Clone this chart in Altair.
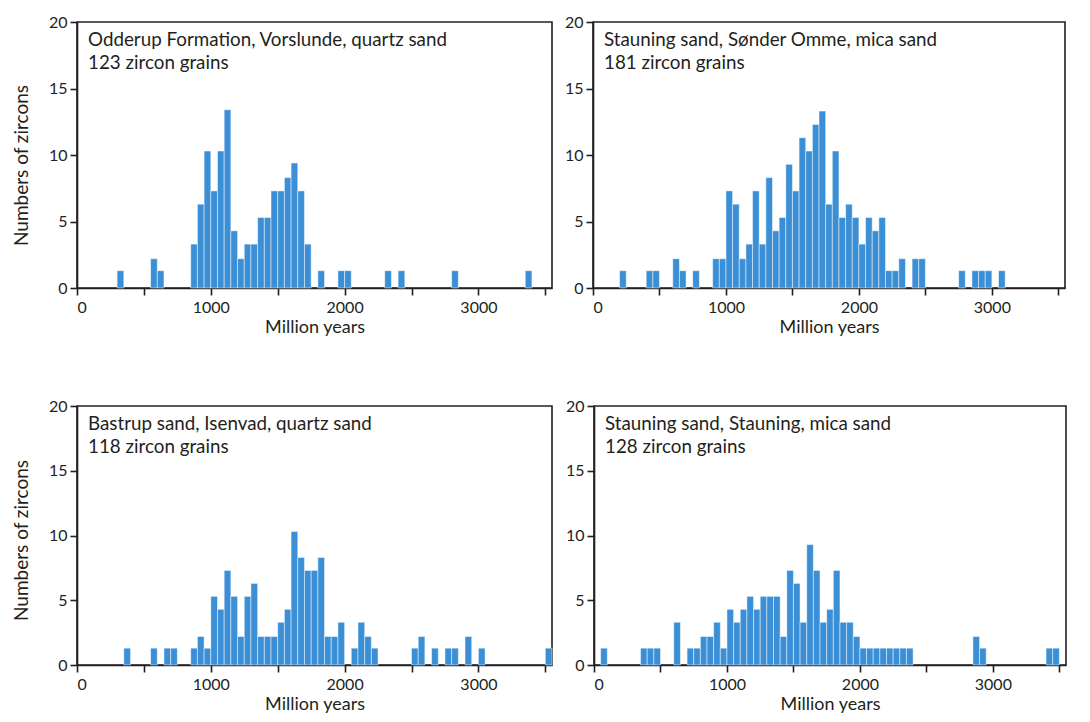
import altair as alt
import pandas as pd

FONT = "Lato"
BLUE = "#3a8fd6"
INK = "#231f20"
BIN = 50

line1 = ["Odderup Formation, Vorslunde, quartz sand",
         "Stauning sand, Sønder Omme, mica sand",
         "Bastrup sand, Isenvad, quartz sand",
         "Stauning sand, Stauning, mica sand"]
line2 = ["123 zircon grains", "181 zircon grains", "118 zircon  grains", "128 zircon grains"]

# bin starts (Ma) and bar heights
starts1 = [300, 550, 600, 850, 900, 950, 1000, 1050, 1100, 1150, 1200, 1250, 1300, 1350,
           1400, 1450, 1500, 1550, 1600, 1650, 1700, 1800, 1950, 2000, 2300, 2400, 2800, 3350]
heights1 = [1.3, 2.2, 1.3, 3.3, 6.3, 10.3, 7.3, 10.3, 13.4, 4.3, 2.2, 3.3, 3.3, 5.3,
            5.3, 7.3, 7.3, 8.3, 9.4, 7.3, 3.3, 1.3, 1.3, 1.3, 1.3, 1.3, 1.3, 1.3]

starts2 = [200, 400, 450, 600, 650, 750,
           900, 950, 1000, 1050, 1100, 1150, 1200, 1250, 1300, 1350, 1400, 1450, 1500, 1550,
           1600, 1650, 1700, 1750, 1800, 1850, 1900, 1950, 2000, 2050, 2100, 2150, 2200, 2250, 2300,
           2400, 2450, 2750, 2850, 2900, 2950, 3050]
heights2 = [1.3, 1.3, 1.3, 2.2, 1.3, 1.3,
            2.2, 2.2, 7.3, 6.3, 2.2, 3.3, 7.3, 3.3, 8.3, 4.3, 5.3, 9.3, 7.3, 11.3,
            10.3, 12.3, 13.3, 6.3, 10.3, 5.3, 6.3, 5.3, 3.3, 5.3, 4.3, 5.3, 1.3, 1.3, 2.2,
            2.2, 2.2, 1.3, 1.3, 1.3, 1.3, 1.3]

starts3 = [350, 550, 650, 700, 850, 900, 950, 1000, 1050, 1100, 1150, 1200, 1250, 1300,
           1350, 1400, 1450, 1500, 1550, 1600, 1650, 1700, 1750, 1800, 1850, 1900, 1950,
           2050, 2100, 2150, 2200, 2500, 2550, 2650, 2750, 2800, 2900, 3000, 3500]
heights3 = [1.3, 1.3, 1.3, 1.3, 1.3, 2.2, 1.3, 5.3, 4.3, 7.3, 5.3, 2.2, 5.3, 6.3,
            2.2, 2.2, 2.2, 3.3, 4.3, 10.3, 8.3, 7.3, 7.3, 8.3, 2.2, 2.2, 3.3,
            1.3, 3.3, 2.2, 1.3, 1.3, 2.2, 1.3, 1.3, 1.3, 2.2, 1.3, 1.3]

starts4 = [50, 350, 400, 450, 600,
           700, 750, 800, 850, 900, 950, 1000, 1050, 1100, 1150, 1200, 1250, 1300, 1350,
           1400, 1450, 1500, 1550, 1600, 1650, 1700, 1750, 1800, 1850, 1900, 1950,
           2000, 2050, 2100, 2150, 2200, 2250, 2300, 2350, 2850, 2900, 3400, 3450]
heights4 = [1.3, 1.3, 1.3, 1.3, 3.3,
            1.3, 1.3, 2.2, 2.2, 3.3, 1.3, 4.3, 3.3, 4.3, 5.3, 4.3, 5.3, 5.3, 5.3,
            2.2, 7.3, 6.3, 3.3, 9.3, 7.3, 3.3, 4.3, 7.3, 3.3, 3.3, 2.2,
            1.3, 1.3, 1.3, 1.3, 1.3, 1.3, 1.3, 1.3, 2.2, 1.3, 1.3, 1.3]

x_ticks = [0, 500, 1000, 1500, 2000, 2500, 3000, 3500]
y_ticks = [0, 5, 10, 15, 20]


def panel(starts, heights, t1, t2, ytitle, width, height, title_y):
    df = pd.DataFrame({"start": starts, "count": heights})
    df["end"] = df["start"] + BIN
    if ytitle:
        yaxis = alt.Axis(values=y_ticks, grid=False, titlePadding=17, titleFontSize=19,
                         titleY=title_y, title=ytitle)
    else:
        yaxis = alt.Axis(values=y_ticks, grid=False, title=None)
    bars = alt.Chart(df).mark_bar(color=BLUE, stroke="white", strokeWidth=0.6,
                                  strokeOpacity=0.8).encode(
        x=alt.X("start:Q", scale=alt.Scale(domain=[0, 3550], nice=False, zero=False),
                axis=alt.Axis(values=x_ticks, format="d", grid=False, title="Million years",
                              labelExpr="datum.value % 1000 === 0 ? datum.label : ''",
                              labelPadding=4, titlePadding=3)),
        x2="end:Q",
        y=alt.Y("count:Q", scale=alt.Scale(domain=[0, 20], nice=False), axis=yaxis),
        y2=alt.datum(0),
    )
    t_a = alt.Chart(pd.DataFrame({"t": [t1]})).mark_text(
        align="left", baseline="middle", fontSize=18.8, font=FONT, color=INK).encode(
        text="t:N", x=alt.value(11), y=alt.value(18))
    t_b = alt.Chart(pd.DataFrame({"t": [t2]})).mark_text(
        align="left", baseline="middle", fontSize=18.8, font=FONT, color=INK).encode(
        text="t:N", x=alt.value(11), y=alt.value(41))
    return alt.layer(bars, t_a, t_b).properties(width=width, height=height)


p1 = panel(starts1, heights1, line1[0], line2[0], "Numbers of zircons", 475, 266, 143)
p2 = panel(starts2, heights2, line1[1], line2[1], "", 472, 266, 0)
p3 = panel(starts3, heights3, line1[2], line2[2], "Numbers of zircons", 475, 259, 134)
p4 = panel(starts4, heights4, line1[3], line2[3], "", 472, 259, 0)

chart = alt.vconcat(
    alt.hconcat(p1, p2, spacing=10),
    alt.hconcat(p3, p4, spacing=10),
    spacing=60,
).properties(
    padding={"left": 3, "top": 5, "right": 0, "bottom": 0},
    background="white",
).configure_view(
    stroke=INK, strokeWidth=1.6
).configure_axis(
    domainColor=INK, domainWidth=1.6, tickColor=INK, tickWidth=1.6, tickSize=7,
    labelFont=FONT, labelFontSize=16, labelColor=INK, labelPadding=3,
    titleFont=FONT, titleFontSize=18, titleColor=INK, titleFontWeight="normal",
)

chart.save("out.html", embed_options={"renderer": "svg", "actions": False})
